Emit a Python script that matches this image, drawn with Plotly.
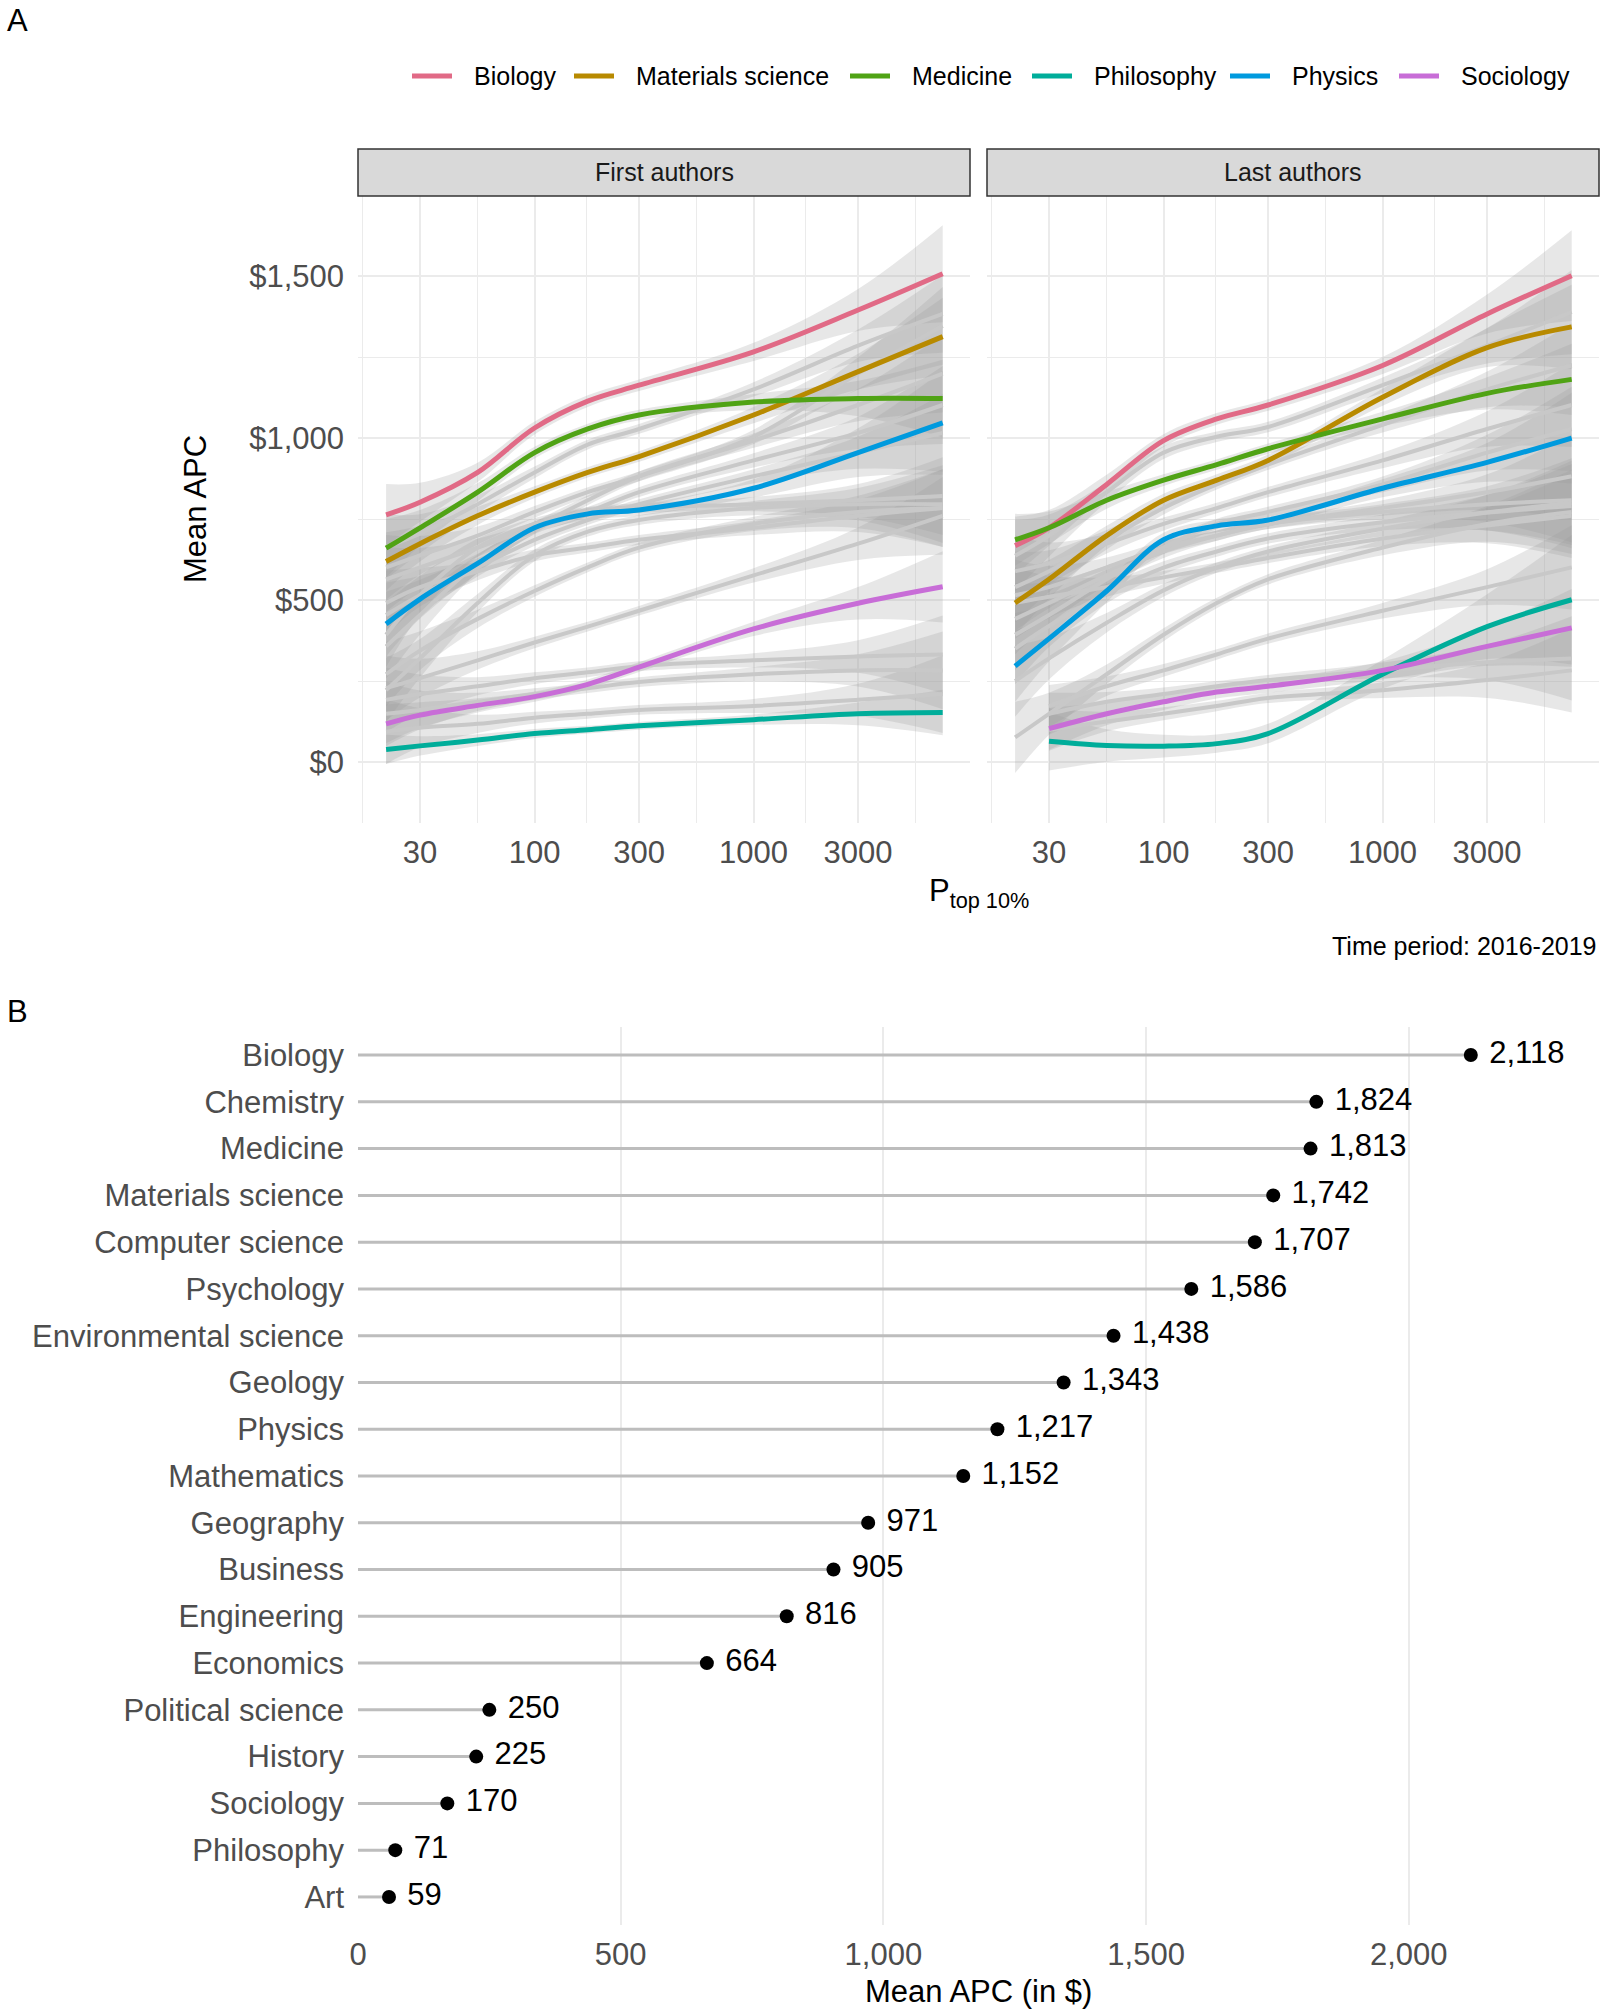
import plotly.graph_objects as go

W, H = 1603, 2013
FONT = "Liberation Sans, Arial, Helvetica, sans-serif"

# ---------------- Panel A data (smoothed mean APC vs P_top10%) ----------------
X_A = [21, 30, 55, 100, 175, 300, 1000, 3000, 7300]
HIGHLIGHT = ["Biology", "Materials science", "Medicine", "Philosophy", "Physics", "Sociology"]
COLORS = ["#E16A86", "#B88A00", "#50A315", "#00AD9A", "#009ADE", "#C86DD7"]

# First authors - highlighted fields
FIRST_BIOLOGY = [763, 802, 894, 1031, 1114, 1163, 1266, 1395, 1507]
FIRST_MATERIALS = [619, 674, 760, 833, 894, 943, 1071, 1205, 1313]
FIRST_MEDICINE = [660, 723, 833, 955, 1028, 1071, 1111, 1122, 1122]
FIRST_PHILOSOPHY = [39, 50, 68, 88, 100, 112, 131, 149, 153]
FIRST_PHYSICS = [426, 503, 613, 723, 766, 778, 845, 955, 1047]
FIRST_SOCIOLOGY = [118, 145, 175, 202, 240, 293, 411, 490, 541]

FIRST_BIOLOGY_CI = [95, 60, 30, 20, 18, 18, 28, 65, 150]
FIRST_MATERIALS_CI = [90, 55, 28, 18, 16, 16, 25, 55, 120]
FIRST_MEDICINE_CI = [90, 55, 28, 18, 16, 16, 25, 55, 120]
FIRST_PHILOSOPHY_CI = [45, 30, 18, 14, 12, 12, 16, 35, 70]
FIRST_PHYSICS_CI = [100, 60, 30, 20, 18, 18, 28, 75, 160]
FIRST_SOCIOLOGY_CI = [60, 40, 22, 16, 15, 15, 22, 50, 110]

# First authors - other fields (grey)
FIRST_CHEMISTRY = [664, 705, 796, 894, 980, 1028, 1150, 1285, 1383]
FIRST_COMPUTER = [601, 638, 699, 772, 833, 882, 1004, 1199, 1346]
FIRST_PSYCHOLOGY = [357, 454, 613, 723, 808, 882, 992, 1102, 1199]
FIRST_ENVIRONMENTAL = [564, 601, 662, 723, 772, 833, 931, 1016, 1102]
FIRST_GEOLOGY = [454, 515, 601, 686, 747, 796, 882, 955, 1016]
FIRST_MATHEMATICS = [393, 515, 662, 735, 772, 784, 796, 808, 821]
FIRST_GEOGRAPHY = [222, 320, 491, 638, 711, 747, 784, 796, 796]
FIRST_BUSINESS = [271, 344, 442, 528, 601, 662, 735, 772, 784]
FIRST_ENGINEERING = [491, 540, 589, 638, 662, 686, 723, 760, 784]
FIRST_ECONOMICS = [228, 259, 314, 369, 418, 467, 576, 674, 760]
FIRST_POLITICAL = [192, 210, 234, 259, 277, 296, 314, 326, 332]
FIRST_HISTORY = [149, 161, 186, 210, 228, 247, 271, 283, 283]
FIRST_ART = [94, 106, 118, 137, 149, 161, 173, 192, 210]
FIRST_GREY_CI = [100, 60, 28, 18, 15, 15, 22, 50, 120]

# Last authors - highlighted fields
LAST_BIOLOGY = [668, 723, 857, 992, 1059, 1102, 1224, 1383, 1501]
LAST_MATERIALS = [491, 564, 699, 808, 870, 931, 1126, 1279, 1343]
LAST_MEDICINE = [686, 723, 808, 870, 918, 967, 1059, 1138, 1181]
LAST_PHILOSOPHY = [None, 64, 51, 49, 57, 88, 271, 418, 501]
LAST_PHYSICS = [296, 381, 528, 686, 729, 747, 845, 925, 1000]
LAST_SOCIOLOGY = [None, 103, 149, 186, 216, 234, 283, 357, 414]

LAST_BIOLOGY_CI = [90, 55, 30, 20, 18, 18, 26, 60, 140]
LAST_MATERIALS_CI = [100, 60, 30, 20, 18, 18, 26, 60, 130]
LAST_MEDICINE_CI = [80, 50, 26, 18, 16, 16, 22, 50, 110]
LAST_PHILOSOPHY_CI = [None, 90, 50, 35, 28, 30, 45, 100, 200]
LAST_PHYSICS_CI = [110, 70, 35, 22, 20, 20, 28, 60, 140]
LAST_SOCIOLOGY_CI = [None, 65, 35, 25, 20, 20, 28, 60, 120]

# Last authors - other fields (grey)
LAST_CHEMISTRY = [637, 699, 833, 955, 1004, 1034, 1163, 1285, 1389]
LAST_COMPUTER = [540, 589, 686, 784, 857, 918, 1041, 1150, 1224]
LAST_PSYCHOLOGY = [393, 454, 564, 662, 735, 772, 857, 955, 1028]
LAST_ENVIRONMENTAL = [589, 613, 674, 735, 784, 833, 931, 1028, 1102]
LAST_GEOLOGY = [515, 540, 601, 662, 699, 735, 784, 833, 882]
LAST_MATHEMATICS = [442, 491, 576, 650, 699, 735, 772, 796, 808]
LAST_GEOGRAPHY = [350, 420, 520, 600, 650, 690, 740, 770, 790]
LAST_BUSINESS = [250, 320, 430, 530, 600, 650, 720, 770, 800]
LAST_ENGINEERING = [491, 510, 540, 570, 600, 630, 690, 730, 760]
LAST_ECONOMICS = [76, 149, 271, 393, 491, 564, 662, 735, 772]
LAST_POLITICAL = [None, 173, 234, 283, 332, 381, 467, 540, 601]
LAST_HISTORY = [None, 149, 186, 210, 234, 253, 283, 308, 320]
LAST_ART = [None, 100, 125, 149, 173, 198, 222, 253, 283]
LAST_GREY_CI = [110, 65, 30, 20, 16, 16, 24, 55, 130]

A_X_TICKS = [30, 100, 300, 1000, 3000]
A_X_MINOR = [16.43, 54.77, 173.2, 547.7, 1732, 5477]
A_Y_TICKS = [0, 500, 1000, 1500]
A_Y_MINOR = [250, 750, 1250]

# ---------------- Panel B data ----------------
CATS_B = ["Biology", "Chemistry", "Medicine", "Materials science", "Computer science",
          "Psychology", "Environmental science", "Geology", "Physics", "Mathematics",
          "Geography", "Business", "Engineering", "Economics", "Political science",
          "History", "Sociology", "Philosophy", "Art"]
VALS_B = [2118, 1824, 1813, 1742, 1707, 1586, 1438, 1343, 1217, 1152,
          971, 905, 816, 664, 250, 225, 170, 71, 59]
B_X_TICKS = [0, 500, 1000, 1500, 2000]

# ---------------- layout constants (pixels) ----------------
A_X_LEFT1, A_X_RIGHT1 = 358, 970
A_X_LEFT2, A_X_RIGHT2 = 987, 1599
A_TOP, A_BOT = 196, 823
STRIP_TOP = 149
B_TOP, B_BOT = 1027, 1925
LEGEND_Y = 76
LEGEND_KEY_X0 = [412, 574, 850, 1032, 1230, 1399]
LEGEND_KEY_LEN = 40
LEGEND_TEXT_GAP = 20


def px(xp):
    return xp / W


def py(yp):
    return 1 - yp / H


first_hl = [(FIRST_BIOLOGY, FIRST_BIOLOGY_CI), (FIRST_MATERIALS, FIRST_MATERIALS_CI),
            (FIRST_MEDICINE, FIRST_MEDICINE_CI), (FIRST_PHILOSOPHY, FIRST_PHILOSOPHY_CI),
            (FIRST_PHYSICS, FIRST_PHYSICS_CI), (FIRST_SOCIOLOGY, FIRST_SOCIOLOGY_CI)]
last_hl = [(LAST_BIOLOGY, LAST_BIOLOGY_CI), (LAST_MATERIALS, LAST_MATERIALS_CI),
           (LAST_MEDICINE, LAST_MEDICINE_CI), (LAST_PHILOSOPHY, LAST_PHILOSOPHY_CI),
           (LAST_PHYSICS, LAST_PHYSICS_CI), (LAST_SOCIOLOGY, LAST_SOCIOLOGY_CI)]
first_grey = [FIRST_CHEMISTRY, FIRST_COMPUTER, FIRST_PSYCHOLOGY, FIRST_ENVIRONMENTAL,
              FIRST_GEOLOGY, FIRST_MATHEMATICS, FIRST_GEOGRAPHY, FIRST_BUSINESS,
              FIRST_ENGINEERING, FIRST_ECONOMICS, FIRST_POLITICAL, FIRST_HISTORY, FIRST_ART]
last_grey = [LAST_CHEMISTRY, LAST_COMPUTER, LAST_PSYCHOLOGY, LAST_ENVIRONMENTAL,
             LAST_GEOLOGY, LAST_MATHEMATICS, LAST_GEOGRAPHY, LAST_BUSINESS,
             LAST_ENGINEERING, LAST_ECONOMICS, LAST_POLITICAL, LAST_HISTORY, LAST_ART]

fig = go.Figure()
BAND_FILL = "rgba(153,153,153,0.24)"


def valid(ys):
    idx = [i for i, v in enumerate(ys) if v is not None]
    return [X_A[i] for i in idx], idx


def add_band(ys, ci, xa, ya):
    xs, idx = valid(ys)
    up = [ys[i] + ci[i] for i in idx]
    lo = [ys[i] - ci[i] for i in idx]
    fig.add_trace(go.Scatter(x=xs, y=up, mode="lines", line=dict(width=0, shape="spline"),
                             hoverinfo="skip", showlegend=False, xaxis=xa, yaxis=ya))
    fig.add_trace(go.Scatter(x=xs, y=lo, mode="lines", line=dict(width=0, shape="spline"),
                             fill="tonexty", fillcolor=BAND_FILL, hoverinfo="skip",
                             showlegend=False, xaxis=xa, yaxis=ya))


def add_line(ys, color, width, xa, ya, name=None):
    xs, idx = valid(ys)
    fig.add_trace(go.Scatter(x=xs, y=[ys[i] for i in idx], mode="lines", name=name,
                             line=dict(color=color, width=width, shape="spline"),
                             showlegend=False, xaxis=xa, yaxis=ya))


# confidence bands
for ys in first_grey:
    add_band(ys, FIRST_GREY_CI, "x", "y")
for ys, ci in first_hl:
    add_band(ys, ci, "x", "y")
for ys in last_grey:
    add_band(ys, LAST_GREY_CI, "x2", "y2")
for ys, ci in last_hl:
    add_band(ys, ci, "x2", "y2")
# grey lines
for ys in first_grey:
    add_line(ys, "#C8C8C8", 4, "x", "y")
for ys in last_grey:
    add_line(ys, "#C8C8C8", 4, "x2", "y2")
# highlighted lines
for (ys, ci), name, col in zip(first_hl, HIGHLIGHT, COLORS):
    add_line(ys, col, 5, "x", "y", name=name)
for (ys, ci), name, col in zip(last_hl, HIGHLIGHT, COLORS):
    add_line(ys, col, 5, "x2", "y2", name=name)

# ---------------- Panel B traces ----------------
seg_x, seg_y = [], []
for c, v in zip(CATS_B, VALS_B):
    seg_x += [0, v, None]
    seg_y += [c, c, None]
fig.add_trace(go.Scatter(x=seg_x, y=seg_y, mode="lines", line=dict(color="#BDBDBD", width=3),
                         showlegend=False, hoverinfo="skip", xaxis="x3", yaxis="y3"))
fig.add_trace(go.Scatter(x=VALS_B, y=CATS_B, mode="markers+text",
                         marker=dict(color="black", size=14),
                         text=[f" {v:,}" for v in VALS_B], textposition="middle right",
                         textfont=dict(family=FONT, size=31, color="black"),
                         showlegend=False, xaxis="x3", yaxis="y3"))

# ---------------- layout ----------------
GRID = "#EBEBEB"
tickfont = dict(family=FONT, size=31, color="#4D4D4D")

xa_common = dict(type="log", range=[1.194, 3.988], tickvals=A_X_TICKS,
                 ticktext=[str(v) for v in A_X_TICKS], showgrid=True, gridcolor=GRID,
                 gridwidth=1.6, zeroline=False, showline=False, ticks="", automargin=False,
                 tickfont=tickfont, ticklabelstandoff=8,
                 minor=dict(tickvals=A_X_MINOR, showgrid=True, gridcolor=GRID, gridwidth=1.2))

fig.update_layout(
    width=W, height=H, margin=dict(l=0, r=0, t=0, b=0, autoexpand=False),
    paper_bgcolor="white", plot_bgcolor="white",
    font=dict(family=FONT, size=25, color="black"),
    xaxis=dict(domain=[px(A_X_LEFT1), px(A_X_RIGHT1)], anchor="y", **xa_common),
    xaxis2=dict(domain=[px(A_X_LEFT2), px(A_X_RIGHT2)], anchor="y2", **xa_common),
    yaxis=dict(domain=[py(A_BOT), py(A_TOP)], anchor="x", range=[-188, 1747],
               tickvals=A_Y_TICKS, ticktext=[f"${v:,}" for v in A_Y_TICKS],
               showgrid=True, gridcolor=GRID, gridwidth=1.6, zeroline=False, ticks="",
               tickfont=tickfont, ticklabelstandoff=13, automargin=False,
               minor=dict(tickvals=A_Y_MINOR, showgrid=True, gridcolor=GRID, gridwidth=1.2)),
    yaxis2=dict(domain=[py(A_BOT), py(A_TOP)], anchor="x2", matches="y", range=[-188, 1747],
                tickvals=A_Y_TICKS, showticklabels=False, automargin=False,
                showgrid=True, gridcolor=GRID, gridwidth=1.6, zeroline=False, ticks="",
                minor=dict(tickvals=A_Y_MINOR, showgrid=True, gridcolor=GRID, gridwidth=1.2)),
    xaxis3=dict(domain=[px(358), px(1599)], anchor="y3", range=[0, 2362],
                tickvals=B_X_TICKS, ticktext=[f"{v:,}" for v in B_X_TICKS],
                showgrid=True, gridcolor=GRID, gridwidth=1.8, zeroline=False, ticks="",
                tickfont=tickfont, ticklabelstandoff=8, automargin=False),
    yaxis3=dict(domain=[py(B_BOT), py(B_TOP)], anchor="x3", type="category",
                categoryorder="array", categoryarray=CATS_B, range=[18.6, -0.6],
                showgrid=False, zeroline=False, ticks="", tickfont=tickfont,
                ticklabelstandoff=13, automargin=False),
    showlegend=False,
)

shapes = []
for (l, r) in [(A_X_LEFT1, A_X_RIGHT1), (A_X_LEFT2, A_X_RIGHT2)]:
    shapes.append(dict(type="rect", xref="paper", yref="paper", x0=px(l), x1=px(r),
                       y0=py(A_TOP), y1=py(STRIP_TOP), fillcolor="#D9D9D9",
                       line=dict(color="#333333", width=1.5), layer="above"))
# legend keys
for x0, col in zip(LEGEND_KEY_X0, COLORS):
    shapes.append(dict(type="line", xref="paper", yref="paper", x0=px(x0),
                       x1=px(x0 + LEGEND_KEY_LEN), y0=py(LEGEND_Y), y1=py(LEGEND_Y),
                       line=dict(color=col, width=5)))
fig.update_layout(shapes=shapes)

annotations = []
strip_mid = py((A_TOP + STRIP_TOP) / 2)
for text, l, r in [("First authors", A_X_LEFT1, A_X_RIGHT1), ("Last authors", A_X_LEFT2, A_X_RIGHT2)]:
    annotations.append(dict(text=text, x=px((l + r) / 2), y=strip_mid, xanchor="center",
                            yanchor="middle", font=dict(family=FONT, size=25, color="#1A1A1A")))
for x0, name in zip(LEGEND_KEY_X0, HIGHLIGHT):
    annotations.append(dict(text=name, x=px(x0 + LEGEND_KEY_LEN + LEGEND_TEXT_GAP),
                            y=py(LEGEND_Y), xanchor="left", yanchor="middle",
                            font=dict(family=FONT, size=25, color="black")))
annotations += [
    dict(text="A", x=px(5), y=py(20), xanchor="left", yanchor="middle",
         font=dict(family=FONT, size=31, color="black")),
    dict(text="B", x=px(5), y=py(1011), xanchor="left", yanchor="middle",
         font=dict(family=FONT, size=31, color="black")),
    dict(text="Mean APC", x=px(196), y=py(509), textangle=-90, xanchor="center",
         yanchor="middle", font=dict(family=FONT, size=31, color="black")),
    dict(text="P<sub>top 10%</sub>", x=px(978.5), y=py(893), xanchor="center",
         yanchor="middle", font=dict(family=FONT, size=31, color="black")),
    dict(text="Time period: 2016-2019", x=px(1599), y=py(946), xanchor="right",
         yanchor="middle", font=dict(family=FONT, size=25, color="black")),
    dict(text="Mean APC (in $)", x=px(978.5), y=py(1991), xanchor="center",
         yanchor="middle", font=dict(family=FONT, size=31, color="black")),
]
for a in annotations:
    a.setdefault("xref", "paper")
    a.setdefault("yref", "paper")
    a.setdefault("showarrow", False)
fig.update_layout(annotations=annotations)

fig.write_html("out.html", config={"displayModeBar": False},
               post_script="document.body.style.margin='0';")
